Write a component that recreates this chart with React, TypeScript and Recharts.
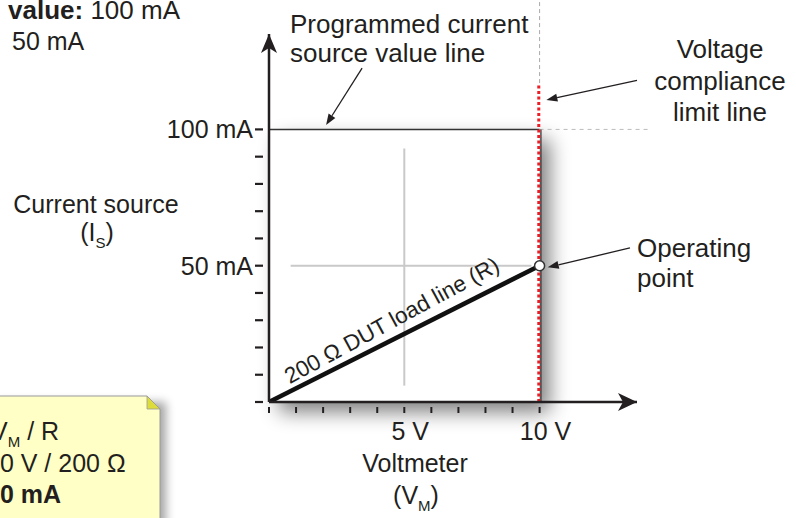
import React from "react";
import {
  ComposedChart,
  Line,
  XAxis,
  YAxis,
  ReferenceLine,
  ReferenceArea,
  ReferenceDot,
} from "recharts";

const FONT = "'Liberation Sans', Arial, Helvetica, sans-serif";
const INK = "#231f20";

// axes (volts / milliamps)
const voltTicks = [0, 1, 2, 3, 4, 5, 6, 7, 8, 9, 10];
const voltLabels: Record<number, string> = { 5: "5 V", 10: "10 V" };
const currentTicks = [0, 10, 20, 30, 40, 50, 60, 70, 80, 90, 100];
const currentLabels: Record<number, string> = { 50: "50 mA", 100: "100 mA" };
const xMax = 13.6;
const yMax = 135;

// 200 ohm DUT load line
const loadVolts = [0, 10];
const loadCurrent = [0, 50];
const loadData = loadVolts.map((v, k) => ({ v, i: loadCurrent[k] }));

const sourceValue = 100; // programmed current, mA
const complianceVolts = 10; // voltage limit, V
const operating = { v: 10, i: 50 };

// light guide cross inside the operating box
const guideH = [0.8, 9.7];
const guideV = [6, 93];

// callout arrows [from, to] in chart units
const arrowProgrammed = [{ x: 3.44, y: 122.5 }, { x: 2.11, y: 101.6 }];
const arrowCompliance = [{ x: 13.6, y: 118 }, { x: 10.25, y: 110.8 }];
const arrowOperating = [{ x: 13.34, y: 56.5 }, { x: 10.3, y: 49.4 }];

const VoltTick = (props: any) => {
  const { x, y, payload } = props;
  const label = voltLabels[payload.value];
  return (
    <g>
      <line x1={x} x2={x} y1={y + 5} y2={y + 11} stroke={INK} strokeWidth={2} />
      {label && (
        <text x={x + 6} y={y + 38} textAnchor="middle" fontFamily={FONT} fontSize={25} fill={INK}>
          {label}
        </text>
      )}
    </g>
  );
};

const CurrentTick = (props: any) => {
  const { x, y, payload } = props;
  const label = currentLabels[payload.value];
  return (
    <g>
      <line x1={x - 14} x2={x - 6} y1={y} y2={y} stroke={INK} strokeWidth={2.2} />
      {label && (
        <text x={x - 16} y={y + 9} textAnchor="end" fontFamily={FONT} fontSize={25} fill={INK}>
          {label}
        </text>
      )}
    </g>
  );
};

const BoxShadow = (p: any) => (
  <g>
    <defs>
      <filter id="boxBlur" x="-30%" y="-30%" width="160%" height="160%">
        <feGaussianBlur stdDeviation="10" />
      </filter>
    </defs>
    <rect x={p.x + 10} y={p.y + 10} width={p.width} height={p.height} fill="#000" opacity={0.5} filter="url(#boxBlur)" />
    <rect x={p.x} y={p.y} width={p.width} height={p.height} fill="#fff" />
  </g>
);

const AxisArrowUp = (p: any) => (
  <polygon
    points={`${p.cx},${p.cy} ${p.cx + 8},${p.cy + 19} ${p.cx},${p.cy + 14} ${p.cx - 8},${p.cy + 19}`}
    fill={INK}
  />
);

const AxisArrowRight = (p: any) => (
  <polygon
    points={`${p.cx},${p.cy} ${p.cx - 19},${p.cy - 9} ${p.cx - 14},${p.cy} ${p.cx - 19},${p.cy + 9}`}
    fill={INK}
  />
);

const CalloutArrow = (p: any) => {
  const { x1, y1, x2, y2 } = p;
  const a = Math.atan2(y2 - y1, x2 - x1);
  const len = 11;
  const hw = 4;
  const bx = x2 - len * Math.cos(a);
  const by = y2 - len * Math.sin(a);
  const nx = -Math.sin(a) * hw;
  const ny = Math.cos(a) * hw;
  return (
    <g>
      <line x1={x1} y1={y1} x2={bx} y2={by} stroke={INK} strokeWidth={1.3} />
      <polygon points={`${x2},${y2} ${bx + nx},${by + ny} ${bx - nx},${by - ny}`} fill={INK} />
    </g>
  );
};

const LoadLabel = (p: any) => {
  const { x1, y1, x2, y2 } = p;
  const ang = (Math.atan2(y2 - y1, x2 - x1) * 180) / Math.PI;
  const t = 0.485;
  const cx = x1 + (x2 - x1) * t;
  const cy = y1 + (y2 - y1) * t;
  return (
    <g transform={`translate(${cx},${cy}) rotate(${ang - 1.7})`}>
      <text x={0} y={-10} textAnchor="middle" fontFamily={FONT} fontSize={22.5} fill={INK}>
        200 Ω DUT load line (R)
      </text>
    </g>
  );
};

const txt = { fontFamily: FONT, fill: INK } as const;

export default function App() {
  return (
    <div style={{ position: "absolute", left: 0, top: 0, width: 796, height: 518, background: "#fff", overflow: "hidden" }}>
      <ComposedChart
        width={796}
        height={518}
        data={loadData}
        margin={{ top: 34, right: 159, left: 268, bottom: 115 }}
        style={{ position: "absolute", left: 0, top: 0 }}
      >
        <ReferenceArea x1={0} x2={complianceVolts} y1={0} y2={sourceValue} shape={BoxShadow} ifOverflow="visible" />
        <XAxis
          type="number"
          dataKey="v"
          domain={[0, xMax]}
          ticks={voltTicks}
          interval={0}
          height={1}
          tickSize={0}
          tickMargin={0}
          tickLine={false}
          axisLine={{ stroke: INK, strokeWidth: 2.5 }}
          tick={<VoltTick />}
          allowDataOverflow
        />
        <YAxis
          type="number"
          domain={[0, yMax]}
          ticks={currentTicks}
          interval={0}
          width={1}
          tickSize={0}
          tickMargin={0}
          tickLine={false}
          axisLine={{ stroke: INK, strokeWidth: 2.5 }}
          tick={<CurrentTick />}
          allowDataOverflow
        />

        {/* guide cross */}
        <ReferenceLine segment={[{ x: guideH[0], y: operating.i }, { x: guideH[1], y: operating.i }]} stroke="#c9c9c9" strokeWidth={2} ifOverflow="visible" />
        <ReferenceLine segment={[{ x: 5, y: guideV[0] }, { x: 5, y: guideV[1] }]} stroke="#c9c9c9" strokeWidth={2} ifOverflow="visible" />

        {/* programmed current source value line */}
        <ReferenceLine segment={[{ x: 0, y: sourceValue }, { x: complianceVolts, y: sourceValue }]} stroke="#333" strokeWidth={1.5} ifOverflow="visible" />
        <ReferenceLine segment={[{ x: complianceVolts, y: sourceValue }, { x: 14.0, y: sourceValue }]} stroke="#bbb" strokeWidth={1} strokeDasharray="4 4" ifOverflow="visible" />

        {/* voltage compliance limit line */}
        <ReferenceLine segment={[{ x: complianceVolts, y: 117 }, { x: complianceVolts, y: 148 }]} stroke="#aaa" strokeWidth={1} strokeDasharray="4 3" ifOverflow="visible" />
        <ReferenceLine segment={[{ x: complianceVolts + 0.05, y: 0 }, { x: complianceVolts + 0.05, y: sourceValue }]} stroke="#3a3a3a" strokeWidth={1.3} ifOverflow="visible" />
        <ReferenceLine segment={[{ x: complianceVolts - 0.03, y: 0 }, { x: complianceVolts - 0.03, y: 117 }]} stroke="#ee1c25" strokeWidth={3} strokeDasharray="3 2.5" ifOverflow="visible" />

        <Line type="linear" dataKey="i" stroke="#111" strokeWidth={4.5} dot={false} isAnimationActive={false} />
        <ReferenceLine segment={[{ x: 0, y: 0 }, { x: 10, y: 50 }]} shape={LoadLabel} ifOverflow="visible" />

        {/* callouts */}
        <ReferenceLine segment={arrowProgrammed} shape={CalloutArrow} ifOverflow="visible" />
        <ReferenceLine segment={arrowCompliance} shape={CalloutArrow} ifOverflow="visible" />
        <ReferenceLine segment={arrowOperating} shape={CalloutArrow} ifOverflow="visible" />

        <ReferenceDot x={0} y={yMax} shape={AxisArrowUp} ifOverflow="visible" />
        <ReferenceDot x={xMax} y={0} shape={AxisArrowRight} ifOverflow="visible" />
        <ReferenceDot x={operating.v} y={operating.i} r={5} fill="#fff" stroke="#333" strokeWidth={1.5} ifOverflow="visible" />
      </ComposedChart>

      <svg width={796} height={518} style={{ position: "absolute", left: 0, top: 0, pointerEvents: "none" }}>
        <defs>
          <filter id="noteBlur" x="-20%" y="-20%" width="140%" height="140%">
            <feGaussianBlur stdDeviation="5" />
          </filter>
        </defs>
        {/* fragments of surrounding figure */}
        <text x={8} y={19} fontSize={26} {...txt}>
          <tspan fontWeight="bold">value:</tspan> 100 mA
        </text>
        <text x={12} y={50} fontSize={25} {...txt}>50 mA</text>

        <text x={290} y={33} fontSize={26} {...txt}>Programmed current</text>
        <text x={290} y={62} fontSize={26} {...txt}>source value line</text>

        <text x={720} y={58} fontSize={26} textAnchor="middle" {...txt}>Voltage</text>
        <text x={720} y={90} fontSize={26} textAnchor="middle" {...txt}>compliance</text>
        <text x={720} y={121} fontSize={26} textAnchor="middle" {...txt}>limit line</text>

        <text x={637} y={257} fontSize={26} {...txt}>Operating</text>
        <text x={637} y={287} fontSize={26} {...txt}>point</text>

        <text x={96} y={213} fontSize={25} textAnchor="middle" {...txt}>Current source</text>
        <text x={97} y={241} fontSize={25} textAnchor="middle" {...txt}>
          (I<tspan fontSize={15} dy={7}>S</tspan><tspan dy={-7}>)</tspan>
        </text>

        <text x={415} y={472} fontSize={25} textAnchor="middle" {...txt}>Voltmeter</text>
        <text x={416} y={504} fontSize={25} textAnchor="middle" {...txt}>
          (V<tspan fontSize={15} dy={7}>M</tspan><tspan dy={-7}>)</tspan>
        </text>

        {/* note */}
        <rect x={-6} y={402} width={172} height={130} fill="#000" opacity={0.35} filter="url(#noteBlur)" />
        <path d="M -2 396 L 147 396 L 160 409 L 160 530 L -2 530 Z" fill="#ffffc6" stroke="#9a9a9a" strokeWidth={1} />
        <path d="M 147 396 L 160 409 L 147 409 Z" fill="#dcdc3c" stroke="#9a9a9a" strokeWidth={0.8} />
        <text x={-9} y={440} fontSize={25} {...txt}>
          V<tspan fontSize={15} dy={7}>M</tspan><tspan dy={-7}> / R</tspan>
        </text>
        <text x={-14} y={472} fontSize={25} {...txt}>10 V / 200 Ω</text>
        <text x={-14} y={503} fontSize={25} fontWeight="bold" {...txt}>50 mA</text>
      </svg>
    </div>
  );
}
